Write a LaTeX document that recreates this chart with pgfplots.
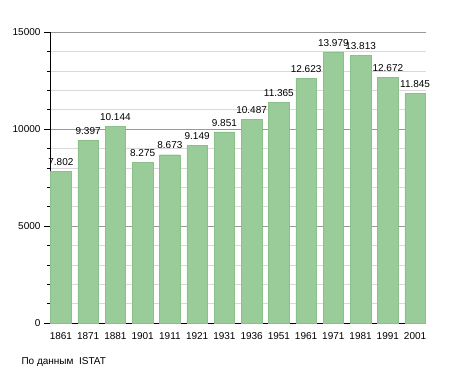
\documentclass[border=0pt]{standalone}
\usepackage{pgfplots}
\pgfplotsset{compat=1.18}
\usepackage{fontspec}
\setmainfont{Liberation Sans}
\definecolor{barg}{RGB}{153,204,153}
\definecolor{bare}{RGB}{138,192,138}
\begin{document}
\begin{tikzpicture}
\useasboundingbox (0pt,0pt) rectangle (455pt,373pt);
\begin{axis}[
  at={(50pt,50pt)}, anchor=south west,
  scale only axis, width=376pt, height=291pt,
  xmin=-0.4, xmax=13.4, ymin=0, ymax=15000,
  axis x line*=bottom, axis y line*=left,
  axis line style={black, line width=0.8pt},
  ytick={0,5000,10000,15000}, minor y tick num=4,
  ymajorgrids, yminorgrids,
  major grid style={color=black!40, line width=0.6pt},
  minor grid style={color=black!15, line width=0.5pt},
  tick align=outside, major tick length=6pt, minor tick length=3pt,
  tick style={black, line width=0.6pt},
  xtick=data, xtick style={draw=none},
  xticklabels={1861,1871,1881,1901,1911,1921,1931,1936,1951,1961,1971,1981,1991,2001},
  scaled y ticks=false,
  /pgf/number format/assume math mode=true,
  yticklabel style={/pgf/number format/1000 sep={}, font=\fontsize{10}{12}\selectfont},
  xticklabel style={font=\fontsize{10}{12}\selectfont},
  ybar, bar width=20.5pt,
  nodes near coords={\pgfmathprintnumber[fixed,precision=0,1000 sep={.}]{\pgfplotspointmeta}},
  every node near coord/.append style={font=\fontsize{10}{12}\selectfont, inner sep=1.5pt, yshift=4pt},
  clip=false,
]
\addplot[fill=barg, draw=bare, line width=0.4pt] coordinates {
(0,7802) (1,9397) (2,10144) (3,8275) (4,8673) (5,9149) (6,9851) (7,10487)
(8,11365) (9,12623) (10,13979) (11,13813) (12,12672) (13,11845)
};
\end{axis}
\node[anchor=west, font=\fontsize{10}{12}\selectfont] at (18pt,11pt) {По данным\ \ ISTAT};
\end{tikzpicture}
\end{document}
